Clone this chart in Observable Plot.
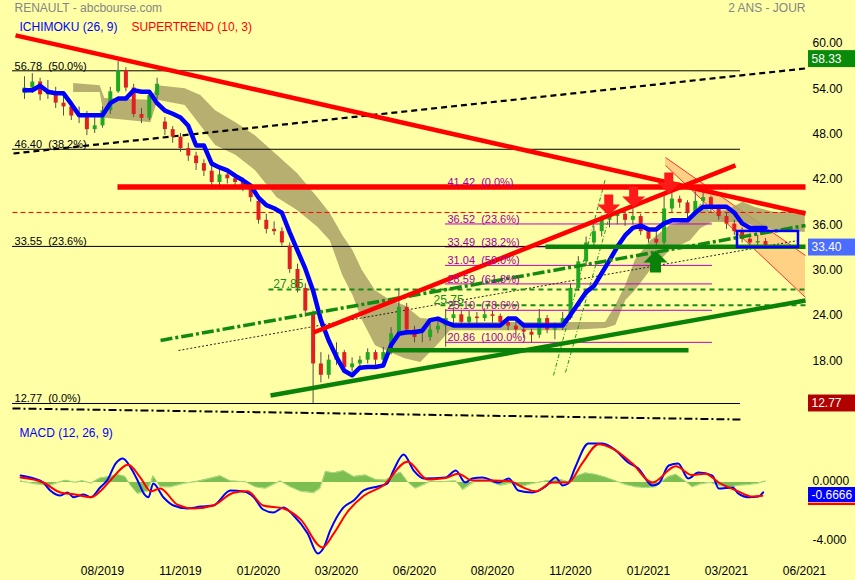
<!DOCTYPE html>
<html><head><meta charset="utf-8">
<script src="https://cdn.jsdelivr.net/npm/d3@7"></script>
<script src="https://cdn.jsdelivr.net/npm/@observablehq/plot@0.6"></script>
<style>
html,body{margin:0;padding:0;background:#ffffa6;}
#chart{width:855px;height:580px;background:#ffffa6;font-family:"Liberation Sans",Arial,sans-serif;}
#chart svg{display:block;}
</style></head><body><div id="chart"></div>
<script>
// ---------- DATA (weekly bars, index 0..95) ----------
const open  = [53.8,54.5,55.3,53.6,54.0,52.5,52.0,50.8,51.0,49.0,49.5,51.5,54.0,56.8,54.5,51.0,50.5,53.5,50.0,49.0,48.0,46.5,45.5,44.5,43.5,42.0,43.0,42.5,42.0,41.5,39.5,37.0,35.8,35.5,33.6,30.5,28.0,24.5,18.0,16.5,18.5,19.5,17.5,18.0,18.5,19.5,18.5,19.5,22.0,25.5,22.5,21.5,21.5,22.5,23.0,24.0,24.5,23.5,24.2,24.0,24.5,24.3,23.5,23.0,22.5,22.2,21.8,24.0,22.5,22.8,24.0,28.0,31.5,34.0,35.5,37.0,37.5,37.8,37.0,37.5,35.5,34.5,34.0,38.5,39.8,39.3,38.0,39.5,40.0,38.5,37.5,36.5,35.5,34.5,34.0,34.2];
const high  = [56.0,56.4,55.8,55.5,54.6,53.4,52.6,52.0,51.4,50.8,52.0,54.6,58.0,57.2,55.0,51.8,54.0,55.8,50.6,49.4,48.5,47.2,46.0,45.0,44.2,43.8,43.6,43.2,42.6,41.8,40.2,37.8,36.8,36.0,34.0,31.2,28.6,25.0,19.5,19.2,20.8,19.8,18.8,19.0,20.0,19.8,20.2,22.8,28.0,26.0,23.0,22.5,23.2,23.8,25.2,25.4,25.0,25.0,24.8,25.3,25.0,24.6,24.2,23.6,23.0,22.6,25.2,24.4,23.4,24.8,28.6,32.2,34.8,36.2,37.6,38.0,38.2,38.2,38.8,37.8,36.0,35.6,40.5,40.6,40.2,39.6,40.8,41.0,40.2,39.0,38.0,37.0,36.0,35.2,35.0,34.6];
const low   = [53.0,53.8,52.8,53.0,51.8,50.8,50.2,49.8,48.2,48.5,49.2,51.0,53.8,54.0,50.6,49.8,50.2,53.0,48.2,47.2,46.0,44.8,43.6,42.8,41.5,41.6,41.8,41.2,40.8,39.4,36.5,35.2,35.0,33.6,30.0,27.4,24.2,12.77,15.5,16.0,17.8,16.8,16.9,17.4,18.0,17.8,18.2,19.2,21.8,21.8,20.8,20.8,21.0,22.0,20.2,23.4,22.8,23.2,23.0,23.6,23.4,22.8,22.4,21.8,21.4,20.8,21.4,22.0,21.2,22.4,23.8,27.6,31.0,33.6,34.8,36.0,36.4,36.2,36.4,35.0,34.0,33.6,33.8,38.0,38.6,37.2,37.6,39.0,38.0,37.0,35.8,35.0,34.0,33.6,33.6,33.2];
const close = [54.5,55.3,53.6,54.0,52.5,52.0,50.8,51.0,49.0,49.5,51.5,54.0,56.8,54.5,51.0,50.5,53.5,55.0,49.0,48.0,46.5,45.5,44.5,43.5,42.0,43.0,42.5,42.0,41.5,40.0,37.0,35.8,35.5,34.0,30.5,28.0,25.0,18.0,16.5,18.5,19.5,17.5,18.0,18.5,19.5,18.5,19.5,22.0,25.5,22.5,21.5,21.5,22.5,23.0,24.0,24.5,23.5,24.2,24.0,24.5,24.3,23.5,23.0,22.5,22.2,21.8,24.0,22.5,22.8,24.0,28.0,31.5,34.0,35.5,37.0,37.5,37.8,37.0,37.5,35.5,34.5,34.0,38.5,39.8,39.3,38.0,39.5,40.0,38.5,37.5,36.5,35.5,34.5,34.0,34.2,33.4];
const kijun = [54.2,54.2,54.8,54.0,53.8,53.8,52.4,50.9,50.9,50.9,50.9,52.5,53.1,53.1,54.2,54.0,54.0,52.5,51.5,51.1,50.6,49.5,46.9,46.9,44.5,44.0,43.6,42.9,42.3,41.6,40.0,39.0,38.6,38.0,35.4,33.0,30.6,27.7,23.8,21.1,18.9,17.1,16.5,17.5,17.6,17.6,17.8,20.5,22.0,22.2,22.2,22.4,23.8,24.0,23.5,23.1,23.1,23.1,23.1,23.1,23.1,23.1,24.0,24.0,23.1,23.1,23.1,23.1,23.1,23.1,24.5,26.0,27.5,28.3,30.0,31.7,33.5,35.0,36.0,36.3,35.8,35.8,36.6,37.0,37.0,37.0,38.0,38.8,38.8,38.8,38.8,38.0,36.6,36.0,36.0,36.0];
const cloudIdx = [6.3,9.7,10.3,16.2,17.1,20.6,22.6,24.5,27.1,29.6,32.4,35.0,37.6,39.2,40.8,42.1,43.3,45.0,46.9,48.8,50.8,52.9,54.6,69.4,74.5,75.8,77.1,78.3,80.3,82.8,85.4,86.7,88.2,90.1,92.1,93.7,96.3,100.1];
const cloudTop = [55.1,54.8,53.1,52.9,54.8,54.4,53.5,51.5,49.9,48.2,45.6,43.2,40.0,37.9,35.0,33.0,30.4,27.7,26.4,25.7,24.0,23.8,23.5,23.5,23.5,25.7,28.4,31.7,34.3,36.3,37.0,39.2,38.0,38.3,39.4,38.7,38.0,38.3];
const cloudBot = [53.9,53.9,50.5,49.9,52.9,52.2,49.5,46.9,45.6,43.6,40.0,38.3,36.1,34.3,29.7,27.1,23.8,20.4,19.5,18.7,18.2,20.4,22.4,22.4,22.7,23.1,26.4,27.7,30.4,33.0,34.3,35.9,36.7,36.7,36.7,36.2,35.7,35.4];

const macdIdx = [-0.5,1.2,2.4,3.3,4.6,5.5,6.3,7.6,8.5,9.7,10.6,11.7,12.6,13.6,14.5,15.3,15.9,16.5,17.8,19.1,20.9,22.6,24.2,26.4,28.1,29.4,30.6,31.9,33.2,34.5,36.3,37.6,38.3,39.2,40.9,42.2,43.5,45.3,46.5,47.3,48.6,49.9,51.2,54.0,55.3,56.5,57.4,58.7,60.8,62.1,63.3,65.1,66.8,68.1,69.0,69.7,70.6,72.3,74.1,75.8,77.4,78.7,80.5,81.3,82.6,83.8,85.1,86.4,88.2,89.0,90.8,91.5,92.8,94.1,94.7];
const macdVal = [0.47,0.27,0.0,-0.54,-0.88,-0.68,-1.0,-0.81,-1.0,-0.34,0.14,1.29,1.63,1.02,0.14,-0.75,-1.0,-0.07,-1.0,-1.56,-1.76,-1.63,-1.56,-0.54,-0.61,-1.0,-1.83,-2.03,-1.69,-2.24,-3.46,-4.81,-4.47,-3.25,-1.69,-1.22,-0.54,-0.27,-0.07,0.81,1.9,0.81,0.27,0.34,0.81,0.0,0.27,0.34,0.0,0.27,-0.54,-0.68,-0.27,0.34,-0.2,-0.07,1.02,2.64,2.64,2.17,1.36,0.95,-0.2,-0.07,1.15,1.29,0.27,0.68,0.47,-0.41,-0.34,-0.75,-1.0,-0.95,-0.67];
const sigIdx = [-0.5,2.4,4.6,6.3,8.5,9.7,11.0,13.3,14.9,16.2,17.4,19.6,21.7,24.2,26.8,28.6,30.6,33.2,35.4,38.2,39.6,41.4,43.5,46.0,49.1,51.7,54.0,55.6,57.4,60.0,62.1,64.2,65.5,67.7,69.7,71.5,73.6,75.4,77.9,80.5,83.5,85.6,87.3,89.0,91.5,93.3,94.6];
const sigVal = [0.34,0.0,-0.68,-0.8,-1.0,-0.6,0.14,1.2,0.3,-0.6,-0.4,-1.5,-1.76,-1.56,-0.7,-0.6,-1.56,-1.76,-2.5,-4.4,-3.5,-2.0,-0.9,-0.2,1.4,0.2,0.3,0.6,0.14,0.14,0.1,-0.4,-0.6,0.0,0.0,1.3,2.6,2.3,1.3,0.0,1.1,0.5,0.6,0.0,-0.6,-0.95,-0.9];
const histIdx = [-0.5,1.4,3.3,4.6,5.3,6.5,7.4,8.5,9.7,11.0,11.9,12.9,13.6,14.5,15.8,16.5,17.4,18.7,20.6,21.9,23.2,25.1,26.4,28.3,29.6,30.9,32.8,34.1,35.4,37.1,37.9,38.6,39.6,40.9,42.2,43.7,45.0,46.3,47.3,48.2,49.2,50.1,51.4,52.1,53.3,55.3,56.2,57.8,59.7,61.0,62.3,63.6,64.9,66.8,68.7,69.7,70.6,71.9,73.2,74.5,75.8,77.1,78.4,79.6,80.9,81.8,82.6,83.5,84.7,85.6,86.7,87.9,89.0,90.3,91.5,92.8,94.1,95.0];
const histVal = [0.1,-0.1,-0.2,0.05,0.15,0.0,0.12,-0.05,0.3,0.4,0.55,0.4,-0.2,-0.75,-0.6,0.45,-0.3,-0.3,-0.05,0.05,0.2,0.45,0.1,0.05,-0.3,-0.4,0.1,-0.3,-0.6,-0.7,-0.4,0.75,0.65,0.8,0.4,0.5,0.2,0.15,0.5,0.7,0.0,-0.4,-0.1,0.1,0.05,0.1,-0.5,0.1,0.05,-0.2,-0.05,-0.3,-0.1,0.1,0.2,0.05,0.4,0.65,0.55,0.35,0.1,-0.15,-0.3,-0.35,-0.3,0.1,0.4,0.55,0.1,-0.3,-0.1,0.0,-0.2,-0.35,-0.2,-0.15,-0.05,0.1];

const priceTicks = [18, 24, 30, 36, 42, 48, 54, 60];
const xTickIdx = [10, 20, 30, 40, 50, 60, 70, 80, 90, 100];
const xTickLabels = ["08/2019","11/2019","01/2020","03/2020","06/2020","08/2020","11/2020","01/2021","03/2021","06/2021"];
const macdTicks = [0, -4];
const macdTickLabels = ["0.0000", "-4.000"];

// retracement levels
const retrLevels = [56.78, 46.40, 33.55, 12.77];
const retrPct = ["50.0%", "38.2%", "23.6%", "0.0%"];
const fibLevels = [41.42, 36.52, 33.49, 31.04, 28.59, 25.10, 20.86];
const fibPct = ["0.0%", "23.6%", "38.2%", "50.0%", "61.8%", "78.6%", "100.0%"];

// drawn objects: [index1, price1, index2, price2]
const redThickLines = [[-1.15, 61.46, 100.13, 37.91], [37.05, 22.16, 91.15, 44.26]];
const redResistance = [[11.92, 41.42, 100.13, 41.42]];
const redDashed = [[-1.54, 38.04, 100.13, 38.04]];
const blackDashed = [[-1.41, 45.84, 100.13, 57.09]];
const blackDashDot = [[-1.54, 12.11, 91.79, 10.65]];
const blackDotted = [[19.74, 19.78, 99.23, 34.34]];
const greenSupport = [[31.54, 13.83, 100.13, 26.40]];
const greenHoriz = [[46.54, 19.8, 85.13, 19.8], [66.79, 33.5, 100.13, 33.5]];
const greenDashDot = [[17.44, 21.11, 100.13, 36.32]];
const greenDashed = [[31.28, 27.85, 100.13, 27.85], [53.33, 25.75, 100.13, 25.75]];
const greenThin = [[67.82, 16.48, 74.49, 42.54], [69.36, 16.87, 75.38, 38.97]];
const channelIdx = [82.18, 100.13];
const channelHi = [45.32, 32.35];
const channelLo = [44.26, 26.8];
const sellIdx = [74.9, 78.1, 82.6];
const sellPrice = [37.64, 38.70, 40.55];
const buyIdx = [80.9];
const buyPrice = [33.0];
const boxRange = [91.41, 35.53, 99.23, 33.41];
const badgeValues = [58.33, 33.40, 12.77];
const badgeColors = ["#0a8a0a", "#4a6cff", "#b00000"];
const macdLast = -0.6666;

// ---------- BUILD ----------
const X0 = -24 / 7.8, X1 = 781 / 7.8;
const FONT = "Liberation Sans, Arial, sans-serif";
const candles = close.map((c, i) => ({i, o: open[i], h: high[i], l: low[i], c}));
const kij = kijun.map((v, i) => ({i, v}));
const cloud = cloudIdx.map((x, k) => ({i: x, t: cloudTop[k], b: cloudBot[k]}));
const channel = channelIdx.map((x, k) => ({i: x, hi: channelHi[k], lo: channelLo[k]}));
const seg = arr => arr.map(([x1, y1, x2, y2]) => ({x1, y1, x2, y2}));
const link = (arr, o) => Plot.link(seg(arr), {x1: "x1", y1: "y1", x2: "x2", y2: "y2", ...o});
const nb = "\u00a0\u00a0";

const arrowDown = {draw(c) {c.moveTo(0,0);c.lineTo(-11.5,-11);c.lineTo(-4.5,-11);c.lineTo(-4.5,-21);c.lineTo(4.5,-21);c.lineTo(4.5,-11);c.lineTo(11.5,-11);c.closePath();}};
const arrowUp = {draw(c) {c.moveTo(0,0);c.lineTo(-12,12);c.lineTo(-5.5,12);c.lineTo(-5.5,22);c.lineTo(5.5,22);c.lineTo(5.5,12);c.lineTo(12,12);c.closePath();}};

const bx1 = X1 + 3 / 7.8, bx2 = X1 + 50 / 7.8, btx = X1 + 6 / 7.8;

const price = Plot.plot({
  width: 855, height: 420, marginLeft: 0, marginRight: 50, marginTop: 0, marginBottom: 0,
  style: {background: "transparent", fontFamily: FONT, fontSize: "12px", color: "black", overflow: "visible"},
  x: {domain: [X0, X1], axis: null},
  y: {domain: [10.52, 66.08]},
  marks: [
    Plot.areaY(channel, {x: "i", y1: "lo", y2: "hi", fill: "#ffc27a", fillOpacity: 0.75}),
    link([[channelIdx[0], channelHi[0], channelIdx[1], channelHi[1]], [channelIdx[0], channelLo[0], channelIdx[1], channelLo[1]]], {stroke: "#ff3030", strokeWidth: 1}),
    Plot.areaY(cloud, {x: "i", y1: "b", y2: "t", fill: "#a9a166", fillOpacity: 0.85}),
    Plot.ruleY(fibLevels, {x1: 53.97, x2: 88.2, stroke: "#c000c0", strokeWidth: 1}),
    Plot.ruleY(retrLevels, {x1: -1.54, x2: 91.79, stroke: "black", strokeWidth: 1}),
    link(redDashed, {stroke: "#ff0000", strokeWidth: 1, strokeDasharray: "5,3"}),
    link(blackDotted, {stroke: "#222", strokeWidth: 1, strokeDasharray: "2,2"}),
    link(blackDashed, {stroke: "black", strokeWidth: 2.2, strokeDasharray: "6,4"}),
    link(blackDashDot, {stroke: "black", strokeWidth: 2, strokeDasharray: "8,3,2,3"}),
    link(greenThin, {stroke: "#1a9a1a", strokeWidth: 1, strokeDasharray: "4,2,1,2"}),
    link(greenDashed, {stroke: "#1a8a1a", strokeWidth: 2, strokeDasharray: "5,4"}),
    Plot.ruleX(candles, {x: "i", y1: "l", y2: "h", stroke: "#505050", strokeWidth: 1}),
    Plot.ruleX(candles, {x: "i", y1: "o", y2: "c", stroke: d => d.c >= d.o ? "#22a722" : "#e02020", strokeWidth: 4}),
    Plot.line(kij, {x: "i", y: "v", stroke: "#0000ff", strokeWidth: 4.5, strokeLinejoin: "round"}),
    link(greenDashDot, {stroke: "#128a12", strokeWidth: 3.5, strokeDasharray: "12,3,3,3"}),
    link(greenSupport, {stroke: "#0a820a", strokeWidth: 4.5}),
    link(greenHoriz, {stroke: "#0a820a", strokeWidth: 4.5}),
    link(redThickLines, {stroke: "#ff0000", strokeWidth: 4.5}),
    link(redResistance, {stroke: "#ff0000", strokeWidth: 5.5}),
    Plot.rect([boxRange], {x1: d => d[0], y1: d => d[1], x2: d => d[2], y2: d => d[3], fill: "none", stroke: "#0000ff", strokeWidth: 2.5}),
    Plot.dot(sellIdx.map((x, k) => ({x, y: sellPrice[k]})), {x: "x", y: "y", symbol: arrowDown, fill: "#ff1a1a", r: 5}),
    Plot.dot(buyIdx.map((x, k) => ({x, y: buyPrice[k]})), {x: "x", y: "y", symbol: arrowUp, fill: "#0a820a", r: 5}),
    Plot.text(fibLevels, {x: 54.23, y: d => d, text: (d, k) => `${d.toFixed(2)}${nb}(${fibPct[k]})`, fill: "#a000a0", fontSize: 11, textAnchor: "start", lineAnchor: "bottom", dy: -1}),
    Plot.text(retrLevels, {x: -1.28, y: d => d, text: (d, k) => `${d.toFixed(2)}${nb}(${retrPct[k]})`, fill: "black", fontSize: 11, textAnchor: "start", lineAnchor: "bottom", dy: -1}),
    Plot.text([27.85, 25.75], {x: (d, k) => [31.9, 52.44][k], y: d => d, text: d => d.toFixed(2), fill: "#1a8a1a", fontSize: 12, textAnchor: "start", lineAnchor: "bottom", dy: -1}),
    Plot.axisY({anchor: "right", ticks: priceTicks, tickFormat: d3.format(".2f"), tickSize: 0, tickPadding: 7, dy: -3, label: null, fontSize: 12}),
    Plot.rect(badgeValues, {x1: bx1, x2: bx2, y1: d => d - 1.12, y2: d => d + 1.12, fill: (d, k) => badgeColors[k]}),
    Plot.text(badgeValues, {x: btx, y: d => d, text: d => d.toFixed(2), fill: "white", fontSize: 12, textAnchor: "start"}),
    Plot.text(["RENAULT - abcbourse.com"], {frameAnchor: "top-left", dx: 14, dy: 3, fill: "#858585", fontSize: 12, textAnchor: "start", lineAnchor: "top"}),
    Plot.text(["2 ANS - JOUR"], {frameAnchor: "top-right", dx: 0, dy: 3, fill: "#858585", fontSize: 12, textAnchor: "end", lineAnchor: "top"}),
    Plot.text(["ICHIMOKU (26, 9)"], {frameAnchor: "top-left", dx: 19, dy: 22, fill: "#0000ff", fontSize: 12, textAnchor: "start", lineAnchor: "top"}),
    Plot.text(["SUPERTREND (10, 3)"], {frameAnchor: "top-left", dx: 131, dy: 22, fill: "#ff0000", fontSize: 12, textAnchor: "start", lineAnchor: "top"})
  ]
});

const macdData = macdIdx.map((x, k) => ({i: x, v: macdVal[k]}));
const sigData = sigIdx.map((x, k) => ({i: x, v: sigVal[k]}));
const histData = histIdx.map((x, k) => ({i: x, v: histVal[k]}));

const macd = Plot.plot({
  width: 855, height: 160, marginLeft: 0, marginRight: 50, marginTop: 0, marginBottom: 20,
  style: {background: "transparent", fontFamily: FONT, fontSize: "12px", color: "black", overflow: "visible"},
  x: {domain: [X0, X1]},
  y: {domain: [-5.288, 4.203]},
  marks: [
    Plot.areaY(histData, {x: "i", y: "v", fill: "#7cbf50"}),
    Plot.line(histData, {x: "i", y: "v", stroke: "#a6d880", strokeWidth: 1}),
    Plot.line(macdData, {x: "i", y: "v", stroke: "#0000ff", strokeWidth: 2, curve: "monotone-x"}),
    Plot.line(sigData, {x: "i", y: "v", stroke: "#ff0000", strokeWidth: 2, curve: "monotone-x"}),
    Plot.axisY({anchor: "right", ticks: macdTicks, tickFormat: d => macdTickLabels[macdTicks.indexOf(d)], tickSize: 0, tickPadding: 7, dy: -1.5, label: null, fontSize: 12}),
    Plot.axisX({anchor: "bottom", ticks: xTickIdx, tickFormat: d => xTickLabels[xTickIdx.indexOf(d)], tickSize: 0, tickPadding: 6, label: null, fontSize: 12}),
    Plot.rect([macdLast], {x1: bx1, x2: bx2, y1: -0.339, y2: -1.356, fill: "#0000ff"}),
    Plot.rect([macdLast], {x1: bx1, x2: bx2, y1: -1.40, y2: -1.56, fill: "#ff0000"}),
    Plot.text([macdLast], {x: btx, y: -0.85, text: d => d.toFixed(4), fill: "white", fontSize: 12, textAnchor: "start"}),
    Plot.text(["MACD (12, 26, 9)"], {frameAnchor: "top-left", dx: 19, dy: 8, fill: "#0000ff", fontSize: 12, textAnchor: "start", lineAnchor: "top"})
  ]
});

const root = document.getElementById("chart");
root.appendChild(price);
root.appendChild(macd);
</script></body></html>
